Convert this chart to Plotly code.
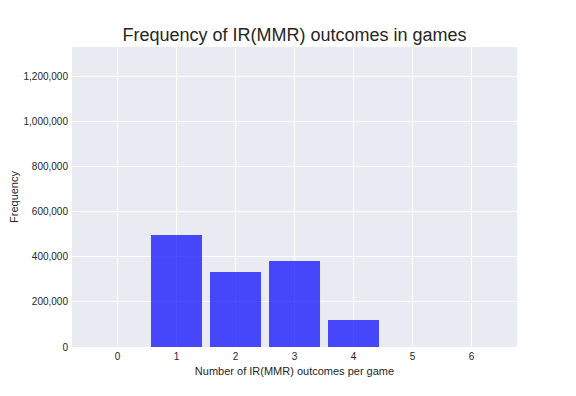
import plotly.graph_objects as go

outcomes = [0, 1, 2, 3, 4, 5, 6]
frequency = [0, 496000, 332000, 381000, 119000, 0, 0]
y_ticks = [0, 200000, 400000, 600000, 800000, 1000000, 1200000]

font_family = "Liberation Sans, Arial, DejaVu Sans, sans-serif"

fig = go.Figure()
fig.add_trace(go.Bar(
    x=outcomes, y=frequency, width=0.85,
    marker=dict(color="rgba(0,0,255,0.7)", line=dict(width=0)),
))

# page body has an 8px margin; margins below compensate for it
fig.update_layout(
    width=576, height=396,
    margin=dict(l=64, r=67, t=39, b=57, autoexpand=False),
    paper_bgcolor="white", plot_bgcolor="#EAEAF2",
    showlegend=False,
    font=dict(family=font_family, color="#262626", size=10),
    title=dict(text="Frequency of IR(MMR) outcomes in games",
               x=0.5, xref="paper", xanchor="center",
               y=1 - 27 / 396, yref="container", yanchor="middle",
               font=dict(size=18, color="#262626")),
    bargap=0,
)
fig.update_xaxes(range=[-0.77, 6.77], tickmode="array", tickvals=outcomes,
                 showgrid=True, gridcolor="white", gridwidth=1, automargin=False,
                 zeroline=False, showline=False, ticks="", ticklen=0, ticklabelstandoff=2,
                 title=dict(text="Number of IR(MMR) outcomes per game", font=dict(size=11), standoff=6))
fig.update_yaxes(range=[0, 1333000], tickmode="array", tickvals=y_ticks, tickformat=",",
                 showgrid=True, gridcolor="white", gridwidth=1, automargin=False,
                 zeroline=False, showline=False, ticks="", ticklabelstandoff=3,
                 title=dict(text="Frequency", font=dict(size=11), standoff=8))

fig.write_html("out.html")
